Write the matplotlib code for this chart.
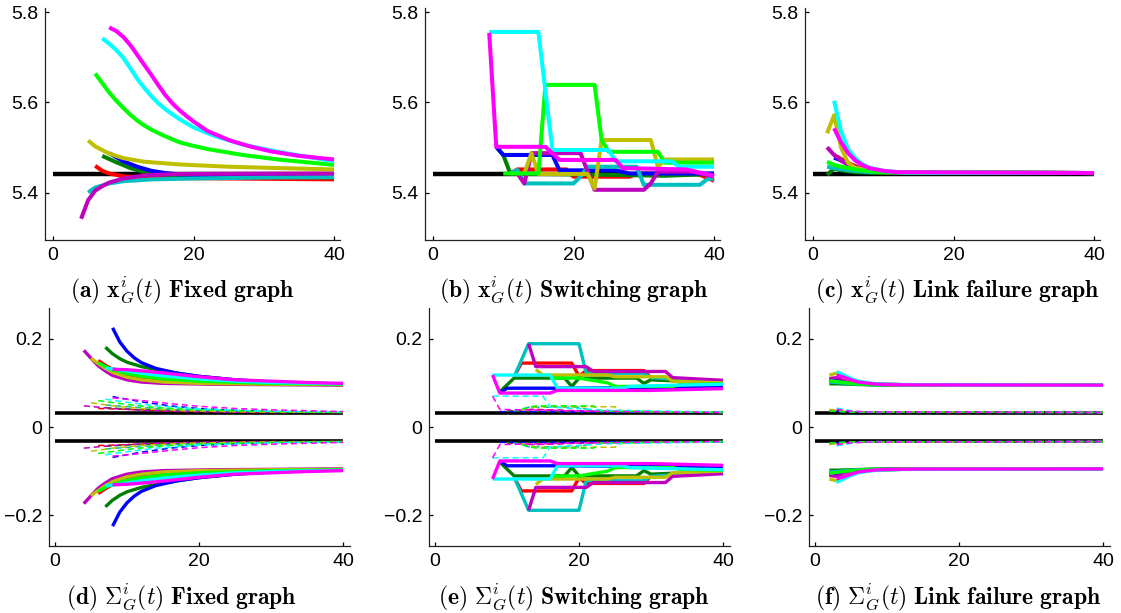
import numpy as np
import matplotlib
matplotlib.use("Agg")
from matplotlib import pyplot as plt

plt.rcParams["font.family"] = ["Liberation Sans", "DejaVu Sans"]
plt.rcParams["mathtext.fontset"] = "cm"

# agent colours, in drawing order (MATLAB-ish)
colors = [(1, 0, 0), (0, 0.5, 0), (0, 0, 1), (0, 0.75, 0.75), (0.75, 0, 0.75),
          (0.75, 0.75, 0), (0, 1, 0), (0, 1, 1), (1, 0, 1)]

black_t = [0, 40]
black_x = 5.443
black_s = 0.032

# ---- (a) x, fixed graph ----
fixed_x_t = [
    [6, 7, 8, 10, 13, 17, 25, 40],
    [7, 9, 11, 13, 16, 20, 30, 40],
    [8, 10, 12, 14, 16, 18, 22, 30, 40],
    [5, 6, 8, 10, 14, 20, 30, 40],
    [4, 5, 6, 7, 8, 10, 13, 18, 40],
    [5, 6, 8, 10, 13, 18, 25, 32, 40],
    [6, 7, 8, 9, 10, 11, 12, 13, 14, 16, 18, 20, 22, 27, 32, 40],
    [7, 8, 9, 10, 11, 12, 13, 14, 15, 16, 18, 20, 23, 27, 32, 40],
    [8, 9, 10, 11, 12, 13, 14, 15, 16, 17, 18, 19, 20, 22, 25, 28, 31, 35, 40],
]
fixed_x_v = [
    [5.460, 5.449, 5.443, 5.437, 5.434, 5.433, 5.432, 5.430],
    [5.482, 5.468, 5.455, 5.446, 5.440, 5.438, 5.436, 5.434],
    [5.488, 5.470, 5.458, 5.449, 5.444, 5.441, 5.439, 5.438, 5.437],
    [5.401, 5.412, 5.421, 5.426, 5.430, 5.432, 5.434, 5.435],
    [5.343, 5.384, 5.405, 5.415, 5.423, 5.432, 5.439, 5.442, 5.443],
    [5.516, 5.503, 5.487, 5.477, 5.469, 5.463, 5.458, 5.455, 5.452],
    [5.664, 5.643, 5.622, 5.604, 5.588, 5.573, 5.560, 5.549, 5.540, 5.525, 5.512,
     5.504, 5.497, 5.484, 5.474, 5.462],
    [5.742, 5.730, 5.716, 5.699, 5.676, 5.652, 5.632, 5.614, 5.598, 5.585, 5.563,
     5.545, 5.526, 5.507, 5.491, 5.470],
    [5.766, 5.758, 5.745, 5.727, 5.705, 5.683, 5.661, 5.638, 5.616, 5.598, 5.583,
     5.570, 5.558, 5.537, 5.517, 5.503, 5.492, 5.482, 5.474],
]

# ---- (b) x, switching graph ----
switch_x_t = [
    [11, 12, 19, 20, 28, 29, 37, 38, 40],
    [9, 10, 11, 25, 33, 40],
    [9, 10, 17, 18, 26, 28, 40],
    [11, 12, 13, 20, 21, 22, 29, 30, 38, 39, 40],
    [12, 13, 14, 21, 23, 30, 31, 32, 37, 40],
    [13, 14, 15, 22, 23, 24, 31, 32, 33, 40],
    [10, 15, 16, 23, 24, 25, 32, 33, 40],
    [8, 15, 17, 25, 26, 34, 35, 40],
    [8, 9, 16, 18, 26, 27, 36, 40],
]
switch_x_v = [
    [5.443, 5.452, 5.452, 5.436, 5.436, 5.443, 5.443, 5.440, 5.427],
    [5.502, 5.484, 5.443, 5.440, 5.438, 5.442],
    [5.502, 5.484, 5.484, 5.450, 5.450, 5.443, 5.443],
    [5.443, 5.451, 5.421, 5.421, 5.436, 5.458, 5.458, 5.418, 5.418, 5.430, 5.432],
    [5.443, 5.421, 5.488, 5.488, 5.407, 5.407, 5.421, 5.447, 5.447, 5.436],
    [5.443, 5.488, 5.442, 5.442, 5.410, 5.517, 5.517, 5.458, 5.474, 5.474],
    [5.443, 5.443, 5.639, 5.639, 5.517, 5.491, 5.491, 5.467, 5.467],
    [5.756, 5.756, 5.495, 5.495, 5.470, 5.470, 5.458, 5.458],
    [5.754, 5.502, 5.502, 5.473, 5.473, 5.455, 5.452, 5.438],
]

# ---- (c) x, link failure graph ----
fail_x_t = [
    [3, 4, 5, 7, 10, 40],
    [2, 3, 4, 6, 10, 40],
    [3, 4, 5, 7, 10, 40],
    [2, 3, 5, 8, 40],
    [2, 3, 4, 5, 7, 10, 40],
    [2, 3, 4, 5, 6, 8, 10, 40],
    [2, 3, 4, 6, 8, 10, 40],
    [3, 4, 5, 6, 7, 8, 10, 13, 40],
    [3, 4, 5, 6, 7, 8, 10, 12, 40],
]
fail_x_v = [
    [5.484, 5.475, 5.466, 5.453, 5.446, 5.444],
    [5.440, 5.454, 5.450, 5.446, 5.444, 5.444],
    [5.478, 5.472, 5.463, 5.452, 5.446, 5.444],
    [5.458, 5.455, 5.450, 5.446, 5.444],
    [5.501, 5.484, 5.472, 5.462, 5.452, 5.446, 5.444],
    [5.532, 5.572, 5.500, 5.466, 5.456, 5.449, 5.446, 5.444],
    [5.469, 5.462, 5.458, 5.452, 5.448, 5.446, 5.444],
    [5.604, 5.536, 5.497, 5.477, 5.464, 5.456, 5.449, 5.445, 5.444],
    [5.543, 5.512, 5.488, 5.472, 5.462, 5.455, 5.449, 5.446, 5.444],
]

# ---- (d) Sigma, fixed graph (upper branch, lower is the mirror) ----
fixed_s_t = [
    [6, 7, 8, 10, 12, 15, 20, 30, 40],
    [7, 8, 9, 10, 12, 15, 20, 25, 30, 40],
    [8, 9, 10, 11, 12, 14, 17, 20, 25, 30, 40],
    [7, 8, 10, 12, 15, 20, 30, 40],
    [4, 5, 6, 7, 8, 10, 12, 15, 22, 40],
    [5, 6, 7, 8, 10, 12, 15, 20, 30, 40],
    [6, 7, 8, 10, 12, 15, 20, 30, 40],
    [7, 8, 10, 12, 15, 20, 25, 30, 40],
    [8, 10, 13, 16, 20, 25, 30, 35, 40],
]
fixed_s_v = [
    [0.151, 0.140, 0.131, 0.119, 0.112, 0.106, 0.101, 0.098, 0.096],
    [0.181, 0.166, 0.155, 0.147, 0.137, 0.127, 0.115, 0.107, 0.102, 0.097],
    [0.225, 0.193, 0.172, 0.157, 0.146, 0.133, 0.122, 0.115, 0.107, 0.102, 0.097],
    [0.135, 0.130, 0.122, 0.117, 0.111, 0.105, 0.100, 0.097],
    [0.174, 0.156, 0.139, 0.127, 0.117, 0.107, 0.102, 0.099, 0.097, 0.095],
    [0.156, 0.144, 0.133, 0.124, 0.113, 0.107, 0.102, 0.099, 0.097, 0.096],
    [0.146, 0.137, 0.130, 0.121, 0.115, 0.109, 0.104, 0.099, 0.097],
    [0.133, 0.132, 0.127, 0.122, 0.116, 0.109, 0.104, 0.101, 0.098],
    [0.131, 0.130, 0.126, 0.121, 0.114, 0.107, 0.104, 0.101, 0.099],
]
fixed_d_t = [
    [6, 10, 15, 22, 40],
    [7, 11, 16, 24, 40],
    [8, 12, 16, 20, 25, 30, 40],
    [7, 11, 16, 24, 40],
    [4, 8, 12, 18, 28, 40],
    [5, 8, 12, 18, 28, 40],
    [6, 10, 14, 20, 30, 40],
    [7, 10, 14, 20, 30, 40],
    [8, 12, 16, 20, 25, 30, 40],
]
fixed_d_v = [
    [0.042, 0.040, 0.037, 0.035, 0.033],
    [0.044, 0.040, 0.037, 0.034, 0.033],
    [0.069, 0.057, 0.048, 0.042, 0.038, 0.035, 0.033],
    [0.050, 0.045, 0.040, 0.036, 0.034],
    [0.048, 0.042, 0.038, 0.035, 0.033, 0.033],
    [0.055, 0.048, 0.042, 0.037, 0.034, 0.033],
    [0.060, 0.051, 0.044, 0.039, 0.035, 0.033],
    [0.063, 0.056, 0.048, 0.041, 0.036, 0.034],
    [0.066, 0.060, 0.053, 0.047, 0.042, 0.039, 0.035],
]

# ---- (e) Sigma, switching graph ----
switch_s_t = [
    [11, 12, 19, 20, 21, 29, 30, 40],
    [9, 11, 18, 19, 20, 28, 29, 30, 40],
    [9, 10, 17, 18, 32, 40],
    [11, 13, 20, 21, 29, 30, 40],
    [13, 14, 21, 22, 32, 33, 40],
    [14, 15, 24, 25, 32, 33, 40],
    [16, 19, 20, 24, 25, 33, 34, 40],
    [8, 16, 17, 26, 27, 34, 40],
    [8, 9, 16, 17, 30, 40],
]
switch_s_v = [
    [0.114, 0.145, 0.145, 0.115, 0.128, 0.128, 0.112, 0.104],
    [0.080, 0.111, 0.111, 0.092, 0.111, 0.111, 0.099, 0.107, 0.100],
    [0.077, 0.088, 0.088, 0.088, 0.090, 0.092],
    [0.114, 0.189, 0.189, 0.122, 0.122, 0.112, 0.101],
    [0.189, 0.137, 0.137, 0.126, 0.126, 0.112, 0.106],
    [0.130, 0.118, 0.118, 0.114, 0.114, 0.104, 0.100],
    [0.111, 0.111, 0.111, 0.100, 0.092, 0.092, 0.096, 0.098],
    [0.118, 0.118, 0.088, 0.088, 0.092, 0.095, 0.097],
    [0.118, 0.077, 0.077, 0.083, 0.083, 0.087],
]
switch_d_t = [
    [10, 14, 20, 40],
    [10, 20, 40],
    [9, 20, 40],
    [11, 13, 20, 22, 40],
    [13, 22, 40],
    [12, 14, 25, 26, 40],
    [12, 14, 22, 23, 40],
    [8, 15, 16, 24, 40],
    [8, 9, 20, 40],
]
switch_d_v = [
    [0.036, 0.040, 0.036, 0.033],
    [0.036, 0.034, 0.033],
    [0.035, 0.034, 0.033],
    [0.036, 0.045, 0.045, 0.036, 0.033],
    [0.040, 0.036, 0.033],
    [0.038, 0.046, 0.046, 0.036, 0.033],
    [0.040, 0.048, 0.048, 0.036, 0.033],
    [0.070, 0.070, 0.045, 0.038, 0.034],
    [0.070, 0.040, 0.036, 0.033],
]

# ---- (f) Sigma, link failure graph ----
fail_s_t = [
    [2, 3, 5, 8, 12, 40],
    [2, 3, 5, 8, 12, 40],
    [2, 3, 5, 8, 12, 40],
    [2, 3, 5, 8, 12, 40],
    [2, 3, 5, 8, 12, 40],
    [2, 3, 4, 6, 8, 12, 40],
    [2, 3, 5, 8, 12, 40],
    [3, 4, 5, 6, 8, 10, 14, 40],
    [3, 4, 5, 6, 8, 10, 14, 40],
]
fail_s_v = [
    [0.108, 0.108, 0.102, 0.097, 0.096, 0.095],
    [0.098, 0.098, 0.097, 0.0955, 0.095, 0.095],
    [0.106, 0.106, 0.101, 0.097, 0.096, 0.095],
    [0.102, 0.101, 0.098, 0.096, 0.0955, 0.095],
    [0.110, 0.112, 0.104, 0.098, 0.096, 0.095],
    [0.118, 0.122, 0.112, 0.102, 0.098, 0.096, 0.095],
    [0.105, 0.103, 0.099, 0.096, 0.0955, 0.095],
    [0.126, 0.118, 0.110, 0.104, 0.099, 0.097, 0.096, 0.095],
    [0.118, 0.113, 0.107, 0.102, 0.098, 0.096, 0.0955, 0.095],
]
fail_d_t = [
    [3, 6, 40], [2, 5, 40], [3, 6, 40], [2, 5, 40], [2, 5, 40],
    [2, 3, 4, 6, 40], [2, 3, 5, 40], [3, 4, 5, 6, 8, 40], [3, 5, 8, 40],
]
fail_d_v = [
    [0.037, 0.034, 0.033], [0.036, 0.034, 0.033], [0.036, 0.034, 0.033],
    [0.036, 0.034, 0.033], [0.037, 0.034, 0.033],
    [0.040, 0.038, 0.036, 0.034, 0.033], [0.036, 0.036, 0.034, 0.033],
    [0.043, 0.040, 0.037, 0.035, 0.033, 0.033], [0.040, 0.036, 0.034, 0.033],
]

captions = [
    r"$\mathbf{(a)}\ \mathbf{x}_G^i(t)\ \mathbf{Fixed\ graph}$",
    r"$\mathbf{(b)}\ \mathbf{x}_G^i(t)\ \mathbf{Switching\ graph}$",
    r"$\mathbf{(c)}\ \mathbf{x}_G^i(t)\ \mathbf{Link\ failure\ graph}$",
    r"$\mathbf{(d)}\ \Sigma_G^i(t)\ \mathbf{Fixed\ graph}$",
    r"$\mathbf{(e)}\ \Sigma_G^i(t)\ \mathbf{Switching\ graph}$",
    r"$\mathbf{(f)}\ \Sigma_G^i(t)\ \mathbf{Link\ failure\ graph}$",
]

W, H = 1121, 613
fig = plt.figure(figsize=(W / 100, H / 100), dpi=100)


def make_ax(left, top, width, height):
    ax = fig.add_axes([left / W, 1 - (top + height) / H, width / W, height / H])
    for s in ("top", "right"):
        ax.spines[s].set_visible(False)
    for s in ("left", "bottom"):
        ax.spines[s].set_linewidth(0.9)
        ax.spines[s].set_color("#222222")
    ax.tick_params(direction="in", length=3, width=0.9, labelsize=14, pad=5)
    ax.set_xticks([0, 20, 40])
    return ax


def draw_x(ax, ts, vs):
    ax.plot(black_t, [black_x, black_x], color="k", lw=3.2, solid_capstyle="butt")
    for c, t, v in zip(colors, ts, vs):
        ax.plot(t, v, color=c, lw=2.9, solid_capstyle="butt")
    ax.set_xlim(-1.14, 40.85)
    ax.set_ylim(5.296, 5.81)
    ax.set_yticks([5.4, 5.6, 5.8])
    ax.set_yticklabels(["5.4", "5.6", "5.8"])


def draw_sigma(ax, ts, vs, dts, dvs):
    for sgn in (1, -1):
        ax.plot(black_t, [sgn * black_s] * 2, color="k", lw=2.6, solid_capstyle="butt")
    for c, t, v in zip(colors, dts, dvs):
        for sgn in (1, -1):
            ax.plot(t, sgn * np.array(v), color=c, lw=1.1, ls=(0, (4, 2.5)))
    for c, t, v in zip(colors, ts, vs):
        for sgn in (1, -1):
            ax.plot(t, sgn * np.array(v), color=c, lw=2.4, solid_capstyle="butt")
    ax.set_xlim(-0.83, 40.97)
    ax.set_ylim(-0.27, 0.27)
    ax.set_yticks([-0.2, 0, 0.2])
    ax.set_yticklabels(["\u22120.2", "0", "0.2"])


top_lefts = [45, 425, 805]
bot_lefts = [49, 429, 809]
cap_x = [182, 574, 958]

x_sets = [(fixed_x_t, fixed_x_v), (switch_x_t, switch_x_v), (fail_x_t, fail_x_v)]
s_sets = [(fixed_s_t, fixed_s_v, fixed_d_t, fixed_d_v),
          (switch_s_t, switch_s_v, switch_d_t, switch_d_v),
          (fail_s_t, fail_s_v, fail_d_t, fail_d_v)]

for i in range(3):
    ax = make_ax(top_lefts[i], 7.5, 295, 232.5)
    draw_x(ax, *x_sets[i])
    fig.text(cap_x[i] / W, 1 - 290 / H, captions[i], ha="center", va="center", fontsize=17)

    ax = make_ax(bot_lefts[i], 308, 301, 238)
    draw_sigma(ax, *s_sets[i])
    fig.text(cap_x[i] / W, 1 - 597 / H, captions[i + 3], ha="center", va="center", fontsize=17)

fig.savefig("out.png", dpi=100)
